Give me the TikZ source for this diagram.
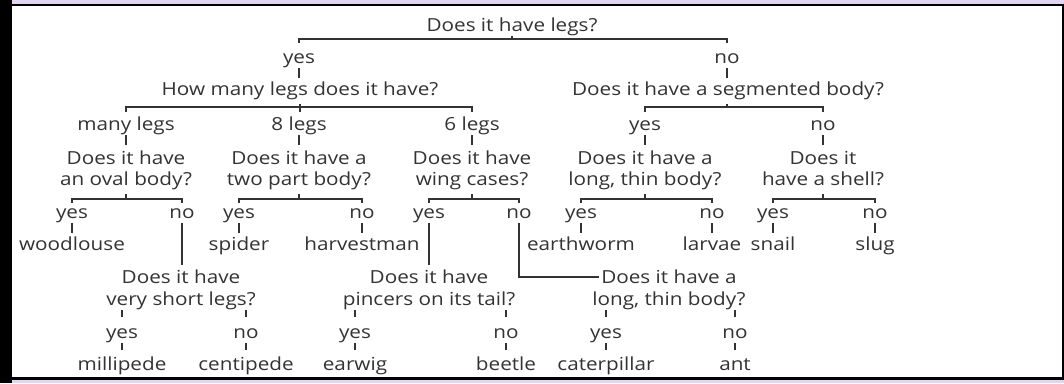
\documentclass[tikz,border=0pt]{standalone}
\usepackage{fontspec}
\setmainfont{Open Sans}[FakeStretch=1.15]
\definecolor{ink}{HTML}{333333}
\definecolor{lav}{RGB}{226,213,240}
\begin{document}
\begin{tikzpicture}[x=1pt,y=-1pt,
  txt/.style={font=\fontsize{18}{20}\selectfont, text=ink, inner sep=0pt, text height=12pt, text depth=5pt, anchor=base},
  ln/.style={draw=ink, line width=2pt}]
\useasboundingbox (0,0) rectangle (1064,383);
% frame
\fill[lav] (0,0) rectangle (1064,383);
\fill[white] (12,6) rectangle (1062,377);
\fill[black] (0,0) rectangle (12,383);
\fill[black] (12,4) rectangle (1064,6);
\fill[black] (12,377) rectangle (1064,380);
\fill[black] (1062,4) rectangle (1064,380);
% bar levels
\coordinate (barA) at (0,38.5);
\coordinate (barC) at (0,107);
\coordinate (barE) at (0,199);
% row A/B
\node[txt] (q0) at (512,31) {Does it have legs?};
\node[txt] (ay) at (299,63) {yes};
\node[txt] (an) at (727,63) {no};
% row C
\node[txt] (q1) at (300,95) {How many legs does it have?};
\node[txt] (q2) at (728,95) {Does it have a segmented body?};
% row D
\node[txt] (m)  at (126,130) {many legs};
\node[txt] (l8) at (299,130) {8 legs};
\node[txt] (l6) at (472,130) {6 legs};
\node[txt] (sy) at (645,130) {yes};
\node[txt] (sn) at (823,130) {no};
% row E
\node[txt] (oa1) at (126,164) {Does it have};
\node[txt] (oa2) at (126,185) {an oval body?};
\node[txt] (tp1) at (299,164) {Does it have a};
\node[txt] (tp2) at (299,185) {two part body?};
\node[txt] (wc1) at (472,164) {Does it have};
\node[txt] (wc2) at (472,185) {wing cases?};
\node[txt] (lt1) at (645,164) {Does it have a};
\node[txt] (lt2) at (645,185) {long, thin body?};
\node[txt] (sh1) at (823,164) {Does it};
\node[txt] (sh2) at (823,185) {have a shell?};
% row F
\node[txt] (oy)  at (72,218)  {yes};
\node[txt] (on)  at (182,218) {no};
\node[txt] (ty)  at (239,218) {yes};
\node[txt] (tn)  at (362,218) {no};
\node[txt] (wy)  at (429,218) {yes};
\node[txt] (wn)  at (519,218) {no};
\node[txt] (ly)  at (581,218) {yes};
\node[txt] (lno) at (712,218) {no};
\node[txt] (hy)  at (773,218) {yes};
\node[txt] (hn)  at (875,218) {no};
% row G leaves
\node[txt] (woodlouse)  at (72,250)  {woodlouse};
\node[txt] (spider)     at (239,250) {spider};
\node[txt] (harvestman) at (362,250) {harvestman};
\node[txt] (earthworm)  at (581,250) {earthworm};
\node[txt] (larvae)     at (712,250) {larvae};
\node[txt] (snail)      at (773,250) {snail};
\node[txt] (slug)       at (875,250) {slug};
% row H
\node[txt] (vs1) at (181,283) {Does it have};
\node[txt] (vs2) at (181,305) {very short legs?};
\node[txt] (pt1) at (429,283) {Does it have};
\node[txt] (pt2) at (429,305) {pincers on its tail?};
\node[txt] (lb1) at (669,283) {Does it have a};
\node[txt] (lb2) at (669,305) {long, thin body?};
% row I
\node[txt] (vy) at (122,338) {yes};
\node[txt] (vn) at (246,338) {no};
\node[txt] (py) at (355,338) {yes};
\node[txt] (pn) at (506,338) {no};
\node[txt] (cy) at (606,338) {yes};
\node[txt] (cn) at (735,338) {no};
% row J
\node[txt] (millipede)   at (122,370) {millipede};
\node[txt] (centipede)   at (246,370) {centipede};
\node[txt] (earwig)      at (355,370) {earwig};
\node[txt] (beetle)      at (506,370) {beetle};
\node[txt] (caterpillar) at (606,370) {caterpillar};
\node[txt] (ant)         at (735,370) {ant};

% --- connectors ---
% level A
\draw[ln] ([yshift=8pt]ay.north) -- (ay |- barA) -- (an |- barA) -- ([yshift=8pt]an.north);
\draw[ln] (q0.south) -- (q0 |- barA);
\draw[ln, shorten >=5pt] (ay.south) -- (ay.south |- q1.north);
\draw[ln, shorten >=5pt] (an.south) -- (an.south |- q2.north);
% level C
\draw[ln] ([yshift=6pt]m.north) -- (m |- barC) -- (l6 |- barC) -- ([yshift=6pt]l6.north);
\draw[ln] ([yshift=-4pt]q1.south) -- ([yshift=6pt]q1.south |- l8.north);
\draw[ln] ([yshift=6pt]sy.north) -- (sy |- barC) -- (sn |- barC) -- ([yshift=6pt]sn.north);
\draw[ln] ([yshift=-4pt]an.south |- q2.south) -- (an |- barC);
% D to E
\draw[ln, shorten >=7pt] (m.south) -- (m.south |- oa1.north);
\draw[ln, shorten >=7pt] (l8.south) -- (l8.south |- tp1.north);
\draw[ln, shorten >=7pt] (l6.south) -- (l6.south |- wc1.north);
\draw[ln, shorten >=7pt] (sy.south) -- (sy.south |- lt1.north);
\draw[ln, shorten >=7pt] (sn.south) -- (sn.south |- sh1.north);
% level E bars
\draw[ln] ([yshift=3pt]oy.north) -- (oy |- barE) -- (on |- barE) -- ([yshift=3pt]on.north);
\draw[ln] ([yshift=-4pt]oa2.south) -- (oa2 |- barE);
\draw[ln] ([yshift=3pt]ty.north) -- (ty |- barE) -- (tn |- barE) -- ([yshift=3pt]tn.north);
\draw[ln] ([yshift=-4pt]tp2.south) -- (tp2 |- barE);
\draw[ln] ([yshift=3pt]wy.north) -- (wy |- barE) -- (wn |- barE) -- ([yshift=3pt]wn.north);
\draw[ln] ([yshift=-4pt]wc2.south) -- (wc2 |- barE);
\draw[ln] ([yshift=3pt]ly.north) -- (ly |- barE) -- (lno |- barE) -- ([yshift=3pt]lno.north);
\draw[ln] ([yshift=-4pt]lt2.south) -- (lt2 |- barE);
\draw[ln] ([yshift=3pt]hy.north) -- (hy |- barE) -- (hn |- barE) -- ([yshift=3pt]hn.north);
\draw[ln] ([yshift=-4pt]sh2.south) -- (sh2 |- barE);
% F to G
\draw[ln, shorten >=5pt] (oy.south) -- (oy.south |- woodlouse.north);
\draw[ln, shorten >=5pt] (ty.south) -- (ty.south |- spider.north);
\draw[ln, shorten >=5pt] (tn.south) -- (tn.south |- harvestman.north);
\draw[ln, shorten >=5pt] (ly.south) -- (ly.south |- earthworm.north);
\draw[ln, shorten >=5pt] (lno.south) -- (lno.south |- larvae.north);
\draw[ln, shorten >=5pt] (hy.south) -- (hy.south |- snail.north);
\draw[ln, shorten >=5pt] (hn.south) -- (hn.south |- slug.north);
% long links to lower questions
\draw[ln, shorten >=6pt] (on.south) -- (on.south |- vs1.north);
\draw[ln, shorten >=6pt] (wy.south) -- (wy.south |- pt1.north);
\draw[ln, shorten >=2pt] (wn.south) |- ([yshift=3pt]lb1.west);
% H to I
\draw[ln, shorten >=9pt] (vy |- vs2.south) -- (vy.north);
\draw[ln, shorten >=9pt] (vn |- vs2.south) -- (vn.north);
\draw[ln, shorten >=9pt] (py |- pt2.south) -- (py.north);
\draw[ln, shorten >=9pt] (pn |- pt2.south) -- (pn.north);
\draw[ln, shorten >=9pt] (cy |- lb2.south) -- (cy.north);
\draw[ln, shorten >=9pt] (cn |- lb2.south) -- (cn.north);
% I to J
\draw[ln, shorten >=8pt] (vy.south) -- (vy.south |- millipede.north);
\draw[ln, shorten >=8pt] (vn.south) -- (vn.south |- centipede.north);
\draw[ln, shorten >=8pt] (py.south) -- (py.south |- earwig.north);
\draw[ln, shorten >=8pt] (pn.south) -- (pn.south |- beetle.north);
\draw[ln, shorten >=8pt] (cy.south) -- (cy.south |- caterpillar.north);
\draw[ln, shorten >=8pt] (cn.south) -- (cn.south |- ant.north);
\end{tikzpicture}
\end{document}
